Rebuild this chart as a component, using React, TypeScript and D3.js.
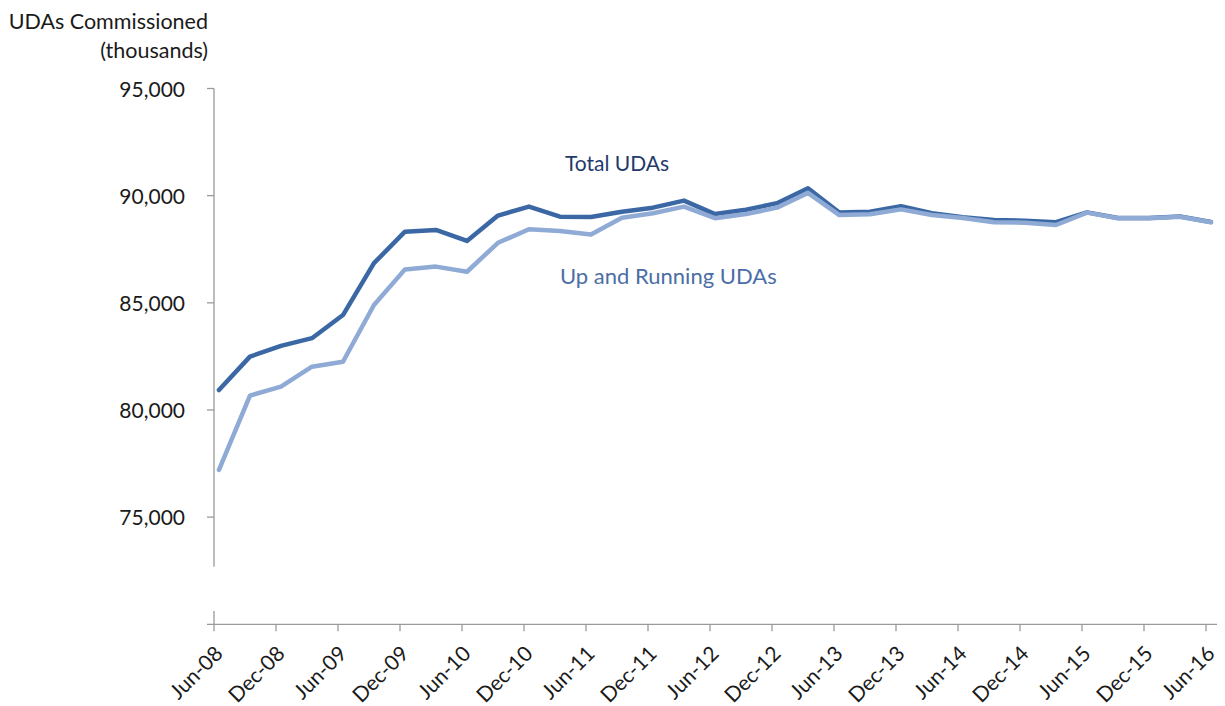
import React from "react";
import * as d3 from "d3";

const tickLabels = ["Jun-08","Dec-08","Jun-09","Dec-09","Jun-10","Dec-10","Jun-11","Dec-11","Jun-12","Dec-12","Jun-13","Dec-13","Jun-14","Dec-14","Jun-15","Dec-15","Jun-16"];
const totalUDAs = [80930, 82490, 82990, 83350, 84430, 86850, 88320, 88400, 87890, 89070, 89490, 89020, 89000, 89250, 89440, 89770, 89140, 89340, 89650, 90350, 89220, 89250, 89510, 89180, 88990, 88860, 88830, 88760, 89220, 88960, 88960, 89030, 88770];
const upRunningUDAs = [77200, 80670, 81090, 82020, 82250, 84900, 86560, 86690, 86450, 87800, 88430, 88350, 88190, 88970, 89180, 89490, 88950, 89140, 89440, 90130, 89100, 89130, 89360, 89100, 88960, 88760, 88740, 88630, 89210, 88950, 88950, 89020, 88760];
const yTicks = [75000, 80000, 85000, 90000, 95000];

const FONT = "Lato, 'Open Sans', sans-serif";

export default function App() {
  const x = d3.scaleLinear().domain([0, 32]).range([214, 1206]);
  const y = d3.scaleLinear().domain([70000, 95000]).range([624.3, 88.5]);
  const pointOffset = 0.16; // quarter offset of data points from tick positions
  const line = d3
    .line<number>()
    .x((_, i) => x(i + pointOffset))
    .y((d) => y(d));
  const fmt = d3.format(",");
  const axisColor = "#9a9a9a";
  const x0 = 214;
  const yBase = y(70000);

  return (
    <svg
      width={1225}
      height={706}
      style={{ position: "absolute", left: 0, top: 0, background: "#fff" }}
      fontFamily={FONT}
    >
      {/* Title */}
      <text x={208} y={29} textAnchor="end" fontSize={21.5} fill="#1a1a1a">UDAs Commissioned</text>
      <text x={208} y={58} textAnchor="end" fontSize={21.5} fill="#1a1a1a">(thousands)</text>

      {/* Y axis with break */}
      <line x1={x0} x2={x0} y1={y(95000)} y2={566.7} stroke={axisColor} strokeWidth={1.3} />
      <line x1={x0} x2={x0} y1={611} y2={yBase} stroke={axisColor} strokeWidth={1.3} />
      {yTicks.map((t) => (
        <g key={t}>
          <line x1={x0 - 7} x2={x0} y1={y(t)} y2={y(t)} stroke={axisColor} strokeWidth={1.3} />
          <text x={185} y={y(t) + 8} textAnchor="end" fontSize={21} fill="#1a1a1a">{fmt(t)}</text>
        </g>
      ))}

      {/* X axis */}
      <line x1={207} x2={1217} y1={yBase} y2={yBase} stroke={axisColor} strokeWidth={1.3} />
      {tickLabels.map((lab, k) => {
        const tx = x(k * 2);
        return (
          <g key={lab}>
            <line x1={tx} x2={tx} y1={yBase} y2={yBase + 7} stroke={axisColor} strokeWidth={1.3} />
            <text
              transform={`translate(${tx + 10},${655}) rotate(-45)`}
              textAnchor="end"
              fontSize={21}
              fill="#1a1a1a"
            >
              {lab}
            </text>
          </g>
        );
      })}

      {/* Lines */}
      <path d={line(totalUDAs) || ""} fill="none" stroke="#3b68a5" strokeWidth={4.5} strokeLinejoin="round" strokeLinecap="round" />
      <path d={line(upRunningUDAs) || ""} fill="none" stroke="#8eaad5" strokeWidth={4.5} strokeLinejoin="round" strokeLinecap="round" />

      {/* Series labels */}
      <text x={565} y={171} fontSize={21} fill="#1f3a6c">Total UDAs</text>
      <text x={560} y={284} fontSize={22} fill="#4a6ea5">Up and Running UDAs</text>
    </svg>
  );
}
